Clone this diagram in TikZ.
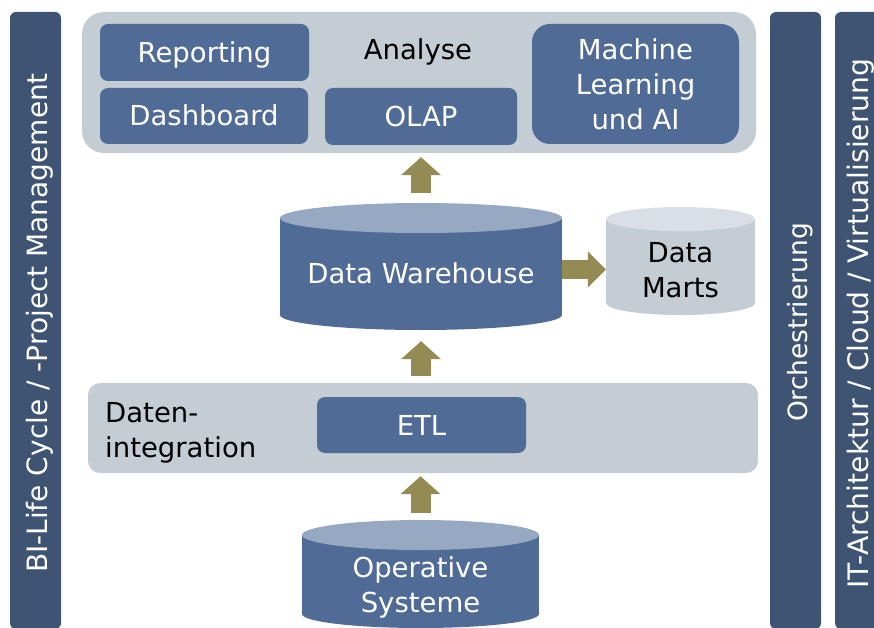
\documentclass[tikz,border=0pt]{standalone}
\usepackage{fontspec}
\setmainfont{DejaVu Sans}
\usetikzlibrary{arrows.meta}
\definecolor{boxblue}{HTML}{506C96}
\definecolor{bardark}{HTML}{3F5472}
\definecolor{panelgray}{HTML}{C4CCD4}
\definecolor{cyltop}{HTML}{97A9C2}
\definecolor{dmbody}{HTML}{C4CCD4}
\definecolor{dmtop}{HTML}{DADFE5}
\definecolor{olivearrow}{HTML}{948A54}
\begin{document}
\begin{tikzpicture}[x=1pt,y=-1pt,
  txt/.style={font=\fontsize{27.5}{35}\selectfont, inner sep=0pt},
  boxlabel/.style={txt, text=white, fill=boxblue, text height=20pt, text depth=0pt},
  panel/.style={fill=panelgray, inner sep=0pt},
  bar/.style={fill=bardark, rounded corners=6pt, inner sep=0pt},
  blockup/.style={line width=20pt, draw=olivearrow, -{Triangle[length=18pt,width=39pt,fill=olivearrow]}},
  blockright/.style={line width=19pt, draw=olivearrow, -{Triangle[length=18pt,width=35pt,fill=olivearrow]}}
]
\useasboundingbox (0,0) rectangle (874,628);

% side bars
\node[bar, minimum width=51pt, minimum height=617pt] (lbar) at (35.5,320.5) {};
\node[bar, minimum width=51pt, minimum height=617pt] (obar) at (795.5,320.5) {};
\node[bar, minimum width=52pt, minimum height=617pt] (ibar) at (861,320.5) {};
\node[txt, text=white, rotate=90, anchor=base, font=\fontsize{28}{35}\selectfont] (lbl) at (47,323) {BI-Life Cycle / -Project Management};
\node[txt, text=white, rotate=90, anchor=base, font=\fontsize{26.5}{35}\selectfont] (olbl) at (807,322.5) {Orchestrierung};
\node[txt, text=white, rotate=90, anchor=base, font=\fontsize{28.2}{35}\selectfont] (ilbl) at (868,323.5) {IT-Architektur / Cloud / Virtualisierung};

% Analyse panel
\node[panel, rounded corners=22pt, minimum width=674pt, minimum height=141pt] (analyse) at (419,82.5) {};
\node[txt, anchor=base] (analyselbl) at (418,60) {Analyse};
\node[boxlabel, rounded corners=8pt, minimum width=209pt, minimum height=57pt] (rep) at (204.5,52.5) {Reporting};
\node[boxlabel, rounded corners=8pt, minimum width=208pt, minimum height=56pt] (dash) at (204,116) {Dashboard};
\node[boxlabel, rounded corners=8pt, minimum width=192pt, minimum height=57pt] (olap) at (421,116.5) {OLAP};
\node[fill=boxblue, rounded corners=18pt, minimum width=207pt, minimum height=120pt, inner sep=0pt] (ml) at (635.5,84) {};
\node[txt, text=white, align=center, anchor=base] (mllbl) at (ml.center |- 0,130) {Machine\\Learning\\und AI};

% Data Warehouse cylinder
\fill[boxblue] (280,218) rectangle (562,315);
\fill[boxblue] (421,315) ellipse [x radius=141, y radius=15];
\fill[cyltop] (421,218) ellipse [x radius=141, y radius=15];
\node[inner sep=0pt, minimum width=282pt, minimum height=133pt] (dw) at (421,269.5) {};
\node[txt, text=white, anchor=base] (dwlbl) at (421,283) {Data Warehouse};

% Data Marts cylinder
\fill[dmbody] (606,219) rectangle (755,303);
\fill[dmbody] (680.5,303) ellipse [x radius=74.5, y radius=12];
\fill[dmtop] (680.5,219) ellipse [x radius=74.5, y radius=12];
\node[inner sep=0pt, minimum width=149pt, minimum height=108pt] (dm) at (680.5,261) {};
\node[txt, align=center, anchor=base] (dmlbl) at (680.5,297) {Data\\Marts};

% Datenintegration panel
\node[panel, rounded corners=12pt, minimum width=670pt, minimum height=90pt] (integ) at (423,428) {};
\node[txt, align=left, anchor=base west] (integlbl) at (105,457) {Daten-\\integration};
\node[boxlabel, rounded corners=8pt, minimum width=209pt, minimum height=56pt] (etl) at (421.5,425) {ETL};

% Operative Systeme cylinder
\fill[boxblue] (302,535) rectangle (539,614);
\fill[boxblue] (420.5,614) ellipse [x radius=118.5, y radius=14];
\fill[cyltop] (420.5,535) ellipse [x radius=118.5, y radius=15];
\node[inner sep=0pt, minimum width=237pt, minimum height=108pt] (os) at (420.5,574) {};
\node[txt, text=white, align=center, anchor=base] (oslbl) at (420.5,612) {Operative\\Systeme};

% arrows
\draw[blockup, shorten <=10pt, shorten >=4pt] (dw.north) -- (dw.north |- analyse.south);
\draw[blockup, shorten <=7pt, shorten >=5pt] (integ.north -| dw.south) -- (dw.south);
\draw[blockup, shorten <=7pt, shorten >=3pt] (os.north) -- (os.north |- integ.south);
\draw[blockright] (dw.east) -- (dw.east -| dm.west);
\end{tikzpicture}
\end{document}
